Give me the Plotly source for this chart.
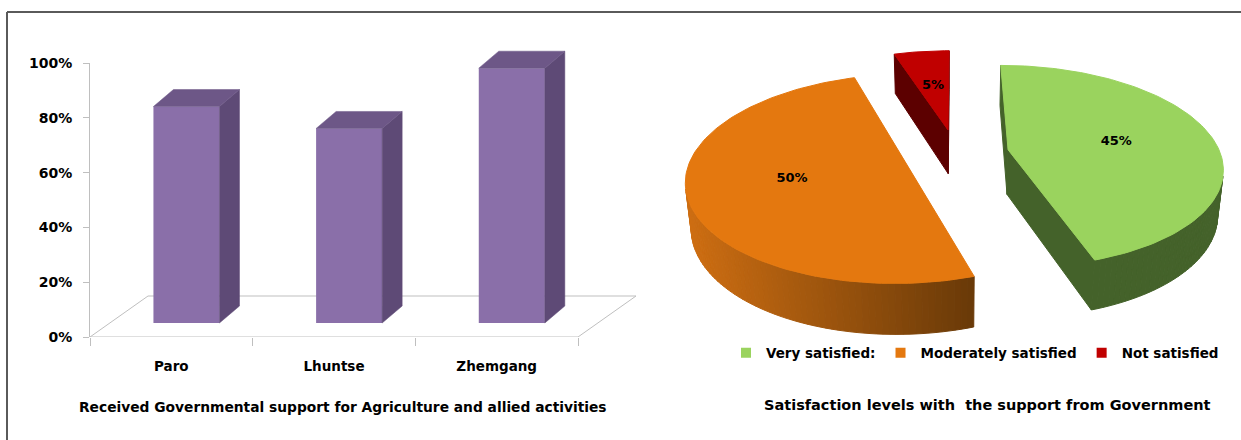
import numpy as np
import plotly.graph_objects as go

# ---------------- data ----------------
districts = ["Paro", "Lhuntse", "Zhemgang"]
support_pct = [79, 71, 93]
y_tick_vals = [0, 20, 40, 60, 80, 100]
y_tick_text = ["0%", "20%", "40%", "60%", "80%", "100%"]

sat_labels = ["Very satisfied:", "Moderately satisfied", "Not satisfied"]
sat_pct = [45, 50, 5]

bar_title = "Received Governmental support for Agriculture and allied activities"
pie_title = "Satisfaction levels with  the support from Government"

# ---------------- style ----------------
W, H = 1241, 440
FONT = "DejaVu Sans, Liberation Sans, sans-serif"


def px_x(x):   # pixel -> paper fraction
    return x / W


def px_y(y):
    return 1 - y / H


def tf(size):
    return dict(family=FONT, size=size, color="#000000", weight="bold")


GRAY = "#bfbfbf"

# bar chart frame (pixels)
AX_LEFT, AX_BOTTOM, AX_TOP = 90, 337, 63
PX_CAT = 488 / 3.0
PX_PCT = (AX_BOTTOM - AX_TOP) / 100.0
X_RANGE = [-0.5, 2.9]
Y3_TOP_PX = 40
y3_max = (AX_BOTTOM - Y3_TOP_PX) / PX_PCT

BAR_OFF, BAR_W = -0.11, 0.406
LIFT = 14 / PX_PCT
DX, DY = 0.123, 17 / PX_PCT
FLOOR_DX, FLOOR_DY = 58 / PX_CAT, 41 / PX_PCT
C_FRONT, C_SIDE, C_TOP = "#8A6FA9", "#5E4A76", "#6D5787"

fig = go.Figure()

# empty trace so that the visible value axis is drawn
fig.add_trace(go.Scatter(x=[None], y=[None], xaxis="x", yaxis="y",
                         showlegend=False, hoverinfo="skip"))

# front faces
fig.add_trace(go.Bar(
    x=list(range(len(districts))), y=support_pct, base=LIFT,
    offset=BAR_OFF, width=BAR_W, marker=dict(color=C_FRONT, line=dict(width=0)),
    xaxis="x", yaxis="y3", showlegend=False, hoverinfo="skip"))

# side and top faces
for i, v in enumerate(support_pct):
    xl = i + BAR_OFF
    xr = xl + BAR_W
    yt = LIFT + v
    fig.add_trace(go.Scatter(
        x=[xr, xr + DX, xr + DX, xr, xr], y=[LIFT, LIFT + DY, yt + DY, yt, LIFT],
        fill="toself", mode="lines", line=dict(color=C_SIDE, width=0.5),
        fillcolor=C_SIDE, xaxis="x", yaxis="y3", showlegend=False, hoverinfo="skip"))
    fig.add_trace(go.Scatter(
        x=[xl, xr, xr + DX, xl + DX, xl], y=[yt, yt, yt + DY, yt + DY, yt],
        fill="toself", mode="lines", line=dict(color=C_TOP, width=0.5),
        fillcolor=C_TOP, xaxis="x", yaxis="y3", showlegend=False, hoverinfo="skip"))

# floor (decoration under the bars)
n = len(districts)
fx = [-0.5, n - 0.5, n - 0.5 + FLOOR_DX, -0.5 + FLOOR_DX]
fy = [0, 0, FLOOR_DY, FLOOR_DY]
path = "M " + " L ".join(f"{a},{b}" for a, b in zip(fx, fy)) + " Z"
shapes = [dict(type="path", path=path, xref="x", yref="y3", layer="below",
               line=dict(color=GRAY, width=1))]

# ---------------- 3D exploded pie ----------------
PIE_X0, PIE_X1, PIE_Y0, PIE_Y1 = 660, W, 0, 340
F, L, PHI, DEPTH, EXPL = 1146.0, 5.4, np.radians(27.9), 0.244, 0.25
S, C = np.sin(PHI), np.cos(PHI)
OX, OY = 956, 153.6
cam = np.array([0.0, -L * C, L * S])

top_cols = ["#9AD35E", "#E4780F", "#C00000"]
side_light = ["#44622A", "#CE6E12", "#5C0000"]
side_dark = ["#44622A", "#6A3A08", "#5C0000"]


def proj(u, v, h):
    z = L + v * C - h * S
    return OX + F * u / z, OY - F * (v * S + h * C) / z


def hex2rgb(hx):
    hx = hx.lstrip("#")
    return np.array([int(hx[k:k + 2], 16) for k in (0, 2, 4)], float)


def lerp_col(a, b, f):
    c = hex2rgb(a) * (1 - f) + hex2rgb(b) * f
    return "rgb(%d,%d,%d)" % tuple(np.round(c))


total = float(sum(sat_pct))
cum = np.concatenate([[0], np.cumsum(sat_pct) / total])
slices = []
for i in range(len(sat_pct)):
    t1 = 90 - 360 * cum[i]
    t0 = 90 - 360 * cum[i + 1]
    mid = np.radians((t0 + t1) / 2)
    ou, ov = EXPL * np.cos(mid), EXPL * np.sin(mid)
    slices.append((i, t0, t1, mid, ou, ov))

slices.sort(key=lambda s_: -s_[5])  # far slices first

label_pts = []
for i, t0, t1, mid, ou, ov in slices:
    ts = np.radians(np.linspace(t0, t1, max(4, int((t1 - t0) / 1.5) + 1)))
    faces = []
    for a, b in zip(ts[:-1], ts[1:]):
        tm = (a + b) / 2
        P = np.array([ou + np.cos(tm), ov + np.sin(tm), 0.0])
        nrm = np.array([np.cos(tm), np.sin(tm), 0.0])
        if np.dot(nrm, cam - P) <= 0:
            continue
        pts = [proj(ou + np.cos(a), ov + np.sin(a), 0), proj(ou + np.cos(b), ov + np.sin(b), 0),
               proj(ou + np.cos(b), ov + np.sin(b), -DEPTH), proj(ou + np.cos(a), ov + np.sin(a), -DEPTH)]
        faces.append((pts, "wall"))
    for tt, sgn in ((np.radians(t0), -1), (np.radians(t1), 1)):
        nrm = np.array([np.cos(tt + sgn * np.pi / 2), np.sin(tt + sgn * np.pi / 2), 0.0])
        P = np.array([ou + 0.5 * np.cos(tt), ov + 0.5 * np.sin(tt), -DEPTH / 2])
        if np.dot(nrm, cam - P) <= 0:
            continue
        pts = [proj(ou, ov, 0), proj(ou + np.cos(tt), ov + np.sin(tt), 0),
               proj(ou + np.cos(tt), ov + np.sin(tt), -DEPTH), proj(ou, ov, -DEPTH)]
        faces.append((pts, "cut"))
    walls = [f for f in faces if f[1] == "wall"]
    if walls:
        xm = [np.mean([p[0] for p in f[0]]) for f in walls]
        xmin, xmax = min(xm), max(xm)
    for pts, kind in faces:
        if kind == "wall":
            xmid = np.mean([p[0] for p in pts])
            fr = 0 if xmax == xmin else (xmid - xmin) / (xmax - xmin)
            col = lerp_col(side_light[i], side_dark[i], fr)
        else:
            col = lerp_col(side_dark[i], side_dark[i], 0)
        xs = [p[0] for p in pts] + [pts[0][0]]
        ys = [p[1] for p in pts] + [pts[0][1]]
        fig.add_trace(go.Scatter(x=xs, y=ys, fill="toself", mode="lines",
                                 line=dict(color=col, width=1), fillcolor=col,
                                 xaxis="x4", yaxis="y4", showlegend=False, hoverinfo="skip"))
    tp = [proj(ou, ov, 0)] + [proj(ou + np.cos(t), ov + np.sin(t), 0) for t in ts] + [proj(ou, ov, 0)]
    fig.add_trace(go.Scatter(x=[p[0] for p in tp], y=[p[1] for p in tp], fill="toself",
                             mode="lines", line=dict(color=top_cols[i], width=1),
                             fillcolor=top_cols[i], xaxis="x4", yaxis="y4",
                             showlegend=False, hoverinfo="skip"))
    label_pts.append((i, proj(ou + 0.53 * np.cos(mid), ov + 0.53 * np.sin(mid), 0)))

label_pts.sort()
fig.add_trace(go.Scatter(
    x=[p[1][0] for p in label_pts], y=[p[1][1] for p in label_pts],
    text=[f"{sat_pct[p[0]]}%" for p in label_pts], mode="text",
    textfont=tf(13), xaxis="x4", yaxis="y4", showlegend=False, hoverinfo="skip"))

# legend entries
for i, lab in enumerate(sat_labels):
    fig.add_trace(go.Scatter(x=[None], y=[None], mode="markers", name=lab,
                             marker=dict(symbol="square", size=10, color=top_cols[i]),
                             xaxis="x4", yaxis="y4", showlegend=True))

# border of the original figure
shapes += [
    dict(type="line", xref="paper", yref="paper", x0=px_x(7), x1=1, y0=px_y(12), y1=px_y(12),
         line=dict(color="#5a5a5a", width=2)),
    dict(type="line", xref="paper", yref="paper", x0=px_x(7), x1=px_x(7), y0=px_y(12), y1=0,
         line=dict(color="#5a5a5a", width=2)),
]

x_dom_right = AX_LEFT + (X_RANGE[1] - X_RANGE[0]) * PX_CAT
fig.update_layout(
    width=W, height=H, margin=dict(l=0, r=0, t=0, b=0, pad=0, autoexpand=False), autosize=False,
    paper_bgcolor="white", plot_bgcolor="rgba(0,0,0,0)",
    font=dict(family=FONT),
    shapes=shapes,
    xaxis=dict(domain=[px_x(AX_LEFT), px_x(x_dom_right)], range=X_RANGE, anchor="y",
               tickmode="array", tickvals=list(range(n)), ticktext=districts,
               ticks="", showline=False, showgrid=False, zeroline=False, automargin=False,
               tickfont=tf(13.5), ticklabelstandoff=19,
               minor=dict(tickmode="array", tickvals=[k - 0.5 for k in range(n + 1)],
                          ticks="outside", ticklen=8, tickcolor=GRAY, tickwidth=1, showgrid=False),
               fixedrange=True),
    yaxis=dict(domain=[px_y(AX_BOTTOM), px_y(AX_TOP)], range=[0, 100], anchor="x",
               tickmode="array", tickvals=y_tick_vals, ticktext=y_tick_text,
               ticks="outside", ticklen=6, tickcolor=GRAY, showline=True, linecolor=GRAY,
               linewidth=1, showgrid=False, zeroline=False, tickfont=tf(14), automargin=False,
               ticklabelstandoff=8, fixedrange=True),
    yaxis3=dict(domain=[px_y(AX_BOTTOM), px_y(Y3_TOP_PX)], range=[0, y3_max],
                anchor="x", visible=False, fixedrange=True),
    xaxis4=dict(domain=[px_x(PIE_X0), px_x(PIE_X1)], range=[PIE_X0, PIE_X1], anchor="y4",
                visible=False, fixedrange=True),
    yaxis4=dict(domain=[px_y(PIE_Y1), px_y(PIE_Y0)], range=[PIE_Y1, PIE_Y0], anchor="x4",
                visible=False, fixedrange=True),
    legend=dict(orientation="h", x=px_x(726), y=px_y(353), xanchor="left", yanchor="middle",
                font=tf(13.5), bgcolor="rgba(0,0,0,0)", itemwidth=30, tracegroupgap=0),
    annotations=[
        dict(text=bar_title, x=px_x(343), y=px_y(407), xref="paper", yref="paper",
             showarrow=False, font=tf(13.8), xanchor="center", yanchor="middle"),
        dict(text=pie_title, x=px_x(987), y=px_y(405), xref="paper", yref="paper",
             showarrow=False, font=tf(14.5), xanchor="center", yanchor="middle"),
    ],
    showlegend=True,
)

fig.write_html("out.html", config={"displayModeBar": False, "responsive": False},
               post_script="document.body.style.margin='0px';")
